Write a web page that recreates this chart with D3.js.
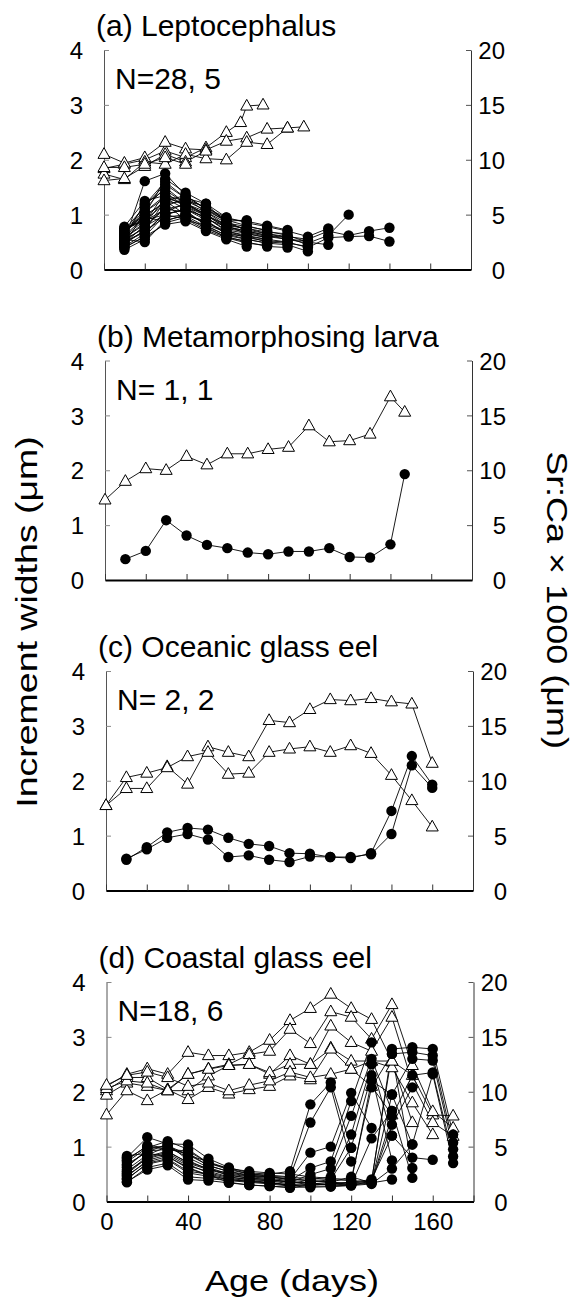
<!DOCTYPE html>
<html>
<head>
<meta charset="utf-8">
<script src="https://cdn.jsdelivr.net/npm/d3@7"></script>
<style>
  body { margin: 0; background: #fff; }
  svg text { font-family: "Liberation Sans", Arial, Helvetica, sans-serif; fill: #000; }
</style>
</head>
<body>
<div id="chart"></div>
<script>
// ---- labels / ticks ----
var panelTitles = ["(a) Leptocephalus", "(b) Metamorphosing larva", "(c) Oceanic glass eel", "(d) Coastal glass eel"];
var panelN = ["N=28, 5", "N= 1, 1", "N= 2, 2", "N=18, 6"];
var leftTicks = [0, 1, 2, 3, 4];
var rightTicks = [0, 5, 10, 15, 20];
var ageTicks = [0, 20, 40, 60, 80, 100, 120, 140, 160, 180];
var ageLabels = [0, 40, 80, 120, 160];

// day grids used by the regularly spaced series
var incDays = [10, 20, 30, 40, 50, 60, 70, 80, 90, 100, 110, 120, 130, 140, 150, 160, 170];
var srDays = [0, 10, 20, 30, 40, 50, 60, 70, 80, 90, 100, 110, 120, 130, 140, 150, 160, 170];

// ---- (a) leptocephalus: increment widths (um), from day 10 ----
var incA = [
  [0.52, 1.61, 1.75, 1.35, 1.10, 0.88, 0.70, 0.62, 0.55, 0.48, 0.62, 1.00],
  [0.60, 1.20, 1.45, 1.20, 1.05, 0.80, 0.75, 0.65, 0.60, 0.55, 0.70, 0.62, 0.70, 0.76],
  [0.45, 1.05, 1.30, 1.10, 0.95, 0.70, 0.62, 0.55, 0.50, 0.40, 0.58, 0.60, 0.61, 0.51],
  [0.70, 1.00, 1.65, 1.40, 1.20, 0.95, 0.85, 0.78, 0.70, 0.60, 0.75],
  [0.75, 0.90, 1.20, 1.25, 1.15, 0.90, 0.80, 0.70, 0.62, 0.50, 0.45],
  [0.40, 0.60, 1.00, 1.10, 0.90, 0.65, 0.55, 0.48, 0.45, 0.33],
  [0.55, 0.75, 1.15, 1.30, 1.20, 0.85, 0.72, 0.65, 0.58, 0.45],
  [0.65, 1.10, 1.50, 1.20, 1.00, 0.75, 0.68, 0.60, 0.55, 0.52],
  [0.50, 0.70, 0.95, 1.00, 0.85, 0.70, 0.60, 0.50, 0.48, 0.42],
  [0.78, 1.25, 1.35, 1.15, 0.92, 0.78, 0.70, 0.62, 0.58],
  [0.36, 0.55, 0.85, 0.95, 0.75, 0.60, 0.50, 0.42, 0.40],
  [0.62, 0.95, 1.25, 1.35, 1.10, 0.92, 0.88, 0.80, 0.72],
  [0.48, 0.80, 1.10, 1.05, 0.82, 0.68, 0.58, 0.52, 0.50],
  [0.58, 0.85, 1.40, 1.15, 0.98, 0.82, 0.75, 0.68, 0.65],
  [0.68, 1.00, 1.20, 0.90, 0.80, 0.62, 0.55, 0.48],
  [0.42, 0.65, 1.05, 1.20, 1.00, 0.80, 0.65, 0.58],
  [0.72, 1.15, 1.55, 1.30, 1.05, 0.85, 0.78, 0.72],
  [0.55, 0.50, 0.90, 0.98, 0.78, 0.58, 0.48, 0.44],
  [0.60, 0.90, 1.00, 1.10, 0.95, 0.72, 0.66, 0.58],
  [0.46, 0.72, 1.25, 1.00, 0.88, 0.65, 0.60, 0.55],
  [0.66, 1.05, 1.35, 1.25, 1.08, 0.88, 0.90],
  [0.52, 0.78, 1.00, 0.92, 0.72, 0.58, 0.52],
  [0.74, 0.88, 1.10, 1.18, 0.98, 0.78, 0.70],
  [0.40, 0.60, 0.82, 0.88, 0.70, 0.55, 0.42],
  [0.64, 1.18, 1.60, 1.30, 1.12, 0.95],
  [0.50, 0.68, 1.02, 1.08, 0.80, 0.62],
  [0.58, 0.82, 1.30, 1.20, 1.00],
  [0.70, 0.95, 0.88, 1.00, 0.86]
];
// (a) Sr:Ca x 1000, [day, value]
var srA = [
  [[0, 9.2], [10, 9.6], [20, 10.0], [30, 10.8], [40, 10.2], [50, 11.1], [60, 12.5], [67, 13.4], [70, 14.9], [78, 15.0]],
  [[0, 10.5], [10, 9.7], [20, 10.2], [30, 11.6], [40, 11.0], [50, 10.9], [60, 11.7], [70, 12.0], [80, 12.8], [90, 12.9], [98, 13.0]],
  [[0, 8.7], [10, 8.2], [20, 9.8], [30, 9.6], [40, 10.5], [50, 10.1], [60, 10.0], [70, 11.6], [80, 11.4], [90, 12.9]],
  [[0, 8.1], [10, 8.3], [20, 9.4], [30, 10.5], [40, 9.8], [50, 10.8]],
  [[0, 9.3], [10, 9.3], [20, 9.6], [30, 10.2], [40, 9.6]]
];

// ---- (b) metamorphosing larva ----
var incB = [
  [[10, 0.38], [20, 0.53], [30, 1.09], [40, 0.81], [50, 0.64], [60, 0.58], [70, 0.50], [80, 0.47],
   [90, 0.52], [100, 0.52], [110, 0.58], [120, 0.42], [130, 0.41], [140, 0.65], [147, 1.93]]
];
var srB = [
  [[0, 7.3], [10, 9.0], [20, 10.15], [30, 10.0], [40, 11.27], [50, 10.5], [60, 11.5], [70, 11.5],
   [80, 11.9], [90, 12.1], [100, 14.06], [110, 12.6], [120, 12.7], [130, 13.3], [140, 16.7], [147, 15.3]]
];

// ---- (c) oceanic glass eel, increments from day 10, Sr:Ca from day 0 ----
var incC = [
  [0.56, 0.79, 1.06, 1.14, 1.11, 0.96, 0.85, 0.81, 0.68, 0.67, 0.61, 0.59, 0.68, 1.45, 2.45, 1.93],
  [0.58, 0.75, 0.96, 1.03, 0.93, 0.61, 0.64, 0.56, 0.52, 0.62, 0.61, 0.61, 0.66, 1.03, 2.28, 1.87]
];
var srC = [
  [7.75, 9.3, 9.3, 11.3, 9.7, 13.1, 12.6, 12.2, 15.5, 15.3, 16.5, 17.4, 17.3, 17.5, 17.2, 17.0, 11.6],
  [7.75, 10.3, 10.7, 11.2, 12.2, 12.6, 10.6, 10.7, 12.6, 12.9, 13.1, 12.6, 13.2, 12.5, 10.5, 8.2, 5.8]
];

// ---- (d) coastal glass eel ----
var incD = [
  [0.80, 1.17, 1.05, 1.04, 0.78, 0.62, 0.52, 0.50, 0.55, 1.77, 2.17, 0.98],
  [0.72, 0.98, 1.10, 0.95, 0.70, 0.58, 0.50, 0.48, 0.45, 1.44, 2.08, 0.73],
  [0.65, 0.92, 0.95, 0.88, 0.65, 0.55, 0.48, 0.45, 0.40, 0.89, 1.00, 1.98, 1.34],
  [0.58, 0.85, 1.00, 0.80, 0.62, 0.50, 0.45, 0.42, 0.38, 0.61, 0.73, 1.83, 2.90],
  [0.50, 0.80, 0.90, 0.72, 0.60, 0.48, 0.42, 0.40, 0.35, 0.49, 0.60, 1.56, 2.60, 1.65],
  [0.45, 0.75, 0.85, 0.65, 0.55, 0.45, 0.40, 0.38, 0.32, 0.40, 0.45, 1.22, 2.50, 1.20],
  [0.40, 0.70, 0.78, 0.55, 0.50, 0.42, 0.38, 0.35, 0.30, 0.35, 0.40, 0.98, 2.30, 0.75],
  [0.35, 0.62, 0.70, 0.45, 0.42, 0.38, 0.35, 0.32, 0.28, 0.32, 0.35, 0.45, 0.34, 0.40],
  [0.83, 0.88, 0.82, 0.60, 0.48, 0.35, 0.30, 0.28, 0.25, 0.30, 0.32, 0.35, 2.20, 1.95, 1.04],
  [0.75, 1.02, 0.98, 0.85, 0.72, 0.60, 0.55, 0.52, 0.50, 0.45, 0.42, 0.40, 2.08, 2.69, 0.61],
  [0.68, 0.90, 1.05, 0.75, 0.58, 0.52, 0.46, 0.44, 0.42, 0.38, 0.36, 0.30, 1.15, 1.65, 0.43],
  [0.55, 0.78, 0.88, 0.68, 0.52, 0.44, 0.40, 0.38, 0.36, 0.33, 0.30, 0.32, 0.36, 1.40, 2.08],
  [0.48, 0.72, 0.82, 0.62, 0.48, 0.40, 0.37, 0.34, 0.30, 0.30, 0.32, 0.35, 0.40, 1.20, 0.80, 0.76],
  [0.78, 1.00, 0.95, 0.92, 0.70, 0.60, 0.50, 0.46, 0.44, 0.42, 0.40, 0.38, 0.36, 2.78, 2.81, 2.78, 1.22],
  [0.62, 0.95, 1.02, 0.85, 0.66, 0.54, 0.47, 0.45, 0.40, 0.38, 0.35, 0.33, 0.38, 2.69, 2.72, 2.66, 1.07],
  [0.52, 0.82, 0.92, 0.70, 0.58, 0.48, 0.43, 0.40, 0.36, 0.34, 0.30, 0.30, 0.34, 1.95, 2.60, 2.57, 0.95],
  [0.42, 0.68, 0.76, 0.52, 0.46, 0.40, 0.36, 0.34, 0.29, 0.28, 0.28, 0.30, 0.36, 1.55, 2.30, 2.35, 0.82],
  [0.36, 0.58, 0.66, 0.40, 0.38, 0.34, 0.30, 0.28, 0.26, 0.26, 0.27, 0.29, 0.32, 0.60, 1.04, 2.32, 0.70]
];
var srD = [
  [10.5, 11.6, 12.1, 11.6, 13.6, 13.3, 13.3, 13.6, 14.7, 16.5, 17.6, 18.9, 17.6, 16.6, 12.8, 11.5, 7.9, 7.8],
  [10.1, 11.3, 11.3, 10.2, 11.6, 12.1, 12.5, 13.4, 13.7, 15.7, 14.4, 17.3, 16.8, 14.8, 17.95, 12.4, 8.2, 6.7],
  [9.7, 10.8, 10.5, 10.1, 10.1, 11.45, 12.4, 12.5, 11.6, 13.3, 12.5, 16.0, 14.5, 13.7, 16.8, 10.8, 7.2, 5.95],
  [7.9, 10.1, 9.2, 10.2, 9.3, 10.4, 9.8, 10.2, 10.5, 11.45, 11.1, 14.0, 12.8, 12.8, 12.2, 9.0, 6.1],
  [10.3, 11.0, 10.8, 10.1, 11.6, 12.06, 12.4, 12.5, 11.75, 12.5, 12.5, 13.9, 12.06, 10.5, 7.9],
  [10.6, 11.5, 11.8, 11.3, 10.5, 10.8, 10.1, 10.6, 11.0, 11.8, 11.3, 11.6, 12.06, 12.8, 12.8, 7.2]
];

function onDays (days, vals) {
    return vals.map(function(v, i) { return [days[i], v]; });
}

var panels = [
    {inc: incA.map(function(s) { return onDays(incDays, s); }), sr: srA},
    {inc: incB, sr: srB},
    {inc: incC.map(function(s) { return onDays(incDays, s); }),
     sr: srC.map(function(s) { return onDays(srDays, s); })},
    {inc: incD.map(function(s) { return onDays(incDays, s); }),
     sr: srD.map(function(s) { return onDays(srDays, s); })}
];

// ---- layout ----
var width = 582, height = 1299;
var panelTop = [50, 360.5, 671, 982];
var panelLeft = [104, 105, 106, 106.5];
var plotW = 367, plotH = 219.5;
var fontFam = '"Liberation Sans", Arial, Helvetica, sans-serif';

var svg = d3.select("#chart").append("svg")
    .attr("width", width)
    .attr("height", height)
    .style("display", "block");

svg.append("rect").attr("width", width).attr("height", height).attr("fill", "#fff");

var triPath = "M0,-6.6L6,4.1L-6,4.1Z";

panels.forEach(function(p, i) {
    var g = svg.append("g")
        .attr("transform", "translate(" + panelLeft[i] + "," + panelTop[i] + ")");

    var x = d3.scaleLinear().domain([0, 180]).range([0, plotW]);
    var yl = d3.scaleLinear().domain([0, 4]).range([plotH, 0]);
    var yr = d3.scaleLinear().domain([0, 20]).range([plotH, 0]);

    // left axis
    var axL = g.append("g")
        .call(d3.axisLeft(yl).tickValues(leftTicks).tickSize(-5).tickSizeOuter(0)
            .tickPadding(21).tickFormat(d3.format("d")));
    axL.select(".domain").attr("stroke", "#555").attr("stroke-width", 1);
    axL.selectAll(".tick line").attr("stroke", "#888");
    axL.selectAll("text").attr("font-size", "24px").attr("font-family", fontFam)
        .attr("dy", "0.36em");

    // right axis
    var axR = g.append("g").attr("transform", "translate(" + plotW + ",0)")
        .call(d3.axisRight(yr).tickValues(rightTicks).tickSize(-5).tickSizeOuter(0)
            .tickFormat(d3.format("d")));
    axR.select(".domain").attr("stroke", "#333").attr("stroke-width", 1);
    axR.selectAll(".tick line").attr("stroke", "#555");
    axR.selectAll("text").attr("font-size", "24px").attr("font-family", fontFam)
        .attr("text-anchor", "end").attr("x", 34).attr("dy", "0.36em");

    // bottom axis
    var axB = g.append("g").attr("transform", "translate(0," + plotH + ")")
        .call(d3.axisBottom(x).tickValues(ageTicks).tickSize(-6).tickSizeOuter(0)
            .tickPadding(11)
            .tickFormat(function(d) { return (i == 3 && ageLabels.indexOf(d) >= 0) ? d : ""; }));
    axB.select(".domain").attr("stroke", "#000").attr("stroke-width", 1.8);
    axB.selectAll(".tick line").attr("stroke", "#333");
    axB.selectAll("text").attr("font-size", "24px").attr("font-family", fontFam);

    // title + N
    svg.append("text")
        .attr("x", panelLeft[i] - 8)
        .attr("y", panelTop[i] - 14)
        .attr("font-size", "30px")
        .text(panelTitles[i]);
    svg.append("text")
        .attr("x", panelLeft[i] + 11)
        .attr("y", panelTop[i] + 39)
        .attr("font-size", "30px")
        .text(panelN[i]);

    var lineL = d3.line()
        .x(function(d) { return x(d[0]); })
        .y(function(d) { return yl(d[1]); });
    var lineR = d3.line()
        .x(function(d) { return x(d[0]); })
        .y(function(d) { return yr(d[1]); });

    // lines first
    g.selectAll(".srline").data(p.sr).enter()
        .append("path").attr("class", "srline")
        .attr("d", lineR)
        .attr("fill", "none").attr("stroke", "#000").attr("stroke-width", 0.9);
    g.selectAll(".incline").data(p.inc).enter()
        .append("path").attr("class", "incline")
        .attr("d", lineL)
        .attr("fill", "none").attr("stroke", "#000").attr("stroke-width", 0.9);

    // triangles (Sr:Ca)
    p.sr.forEach(function(s) {
        g.selectAll(null).data(s).enter()
            .append("path")
            .attr("d", triPath)
            .attr("transform", function(d) { return "translate(" + x(d[0]) + "," + yr(d[1]) + ")"; })
            .attr("fill", "#fff").attr("stroke", "#000").attr("stroke-width", 1);
    });
    // filled circles (increment widths)
    p.inc.forEach(function(s) {
        g.selectAll(null).data(s).enter()
            .append("circle")
            .attr("cx", function(d) { return x(d[0]); })
            .attr("cy", function(d) { return yl(d[1]); })
            .attr("r", 5.2)
            .attr("fill", "#000");
    });
});

// axis titles
svg.append("text")
    .attr("transform", "translate(26,622) rotate(-90) scale(1.25,1)")
    .attr("text-anchor", "middle")
    .attr("dominant-baseline", "central")
    .attr("font-size", "30px")
    .text("Increment widths (\u03bcm)");

svg.append("text")
    .attr("transform", "translate(557,600) rotate(90) scale(1.2,1)")
    .attr("text-anchor", "middle")
    .attr("dominant-baseline", "central")
    .attr("font-size", "30px")
    .text("Sr:Ca \u00d7 1000 (\u03bcm)");

svg.append("text")
    .attr("transform", "translate(292,1291) scale(1.2,1)")
    .attr("text-anchor", "middle")
    .attr("font-size", "30px")
    .text("Age (days)");
</script>
</body>
</html>
